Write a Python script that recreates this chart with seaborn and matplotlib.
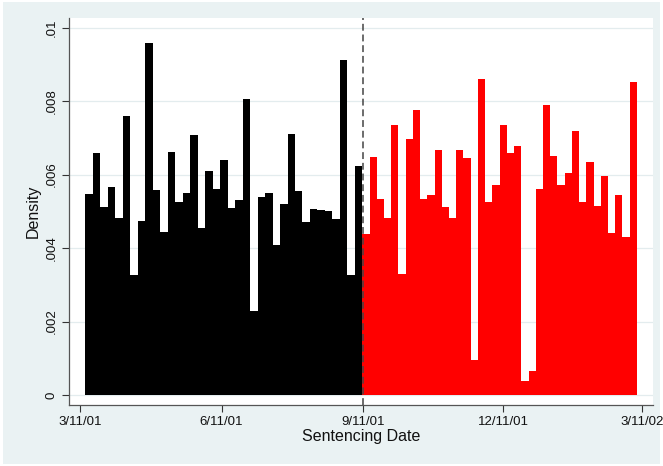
import numpy as np
import pandas as pd
import seaborn as sns
import matplotlib
matplotlib.use("Agg")
import matplotlib.pyplot as plt
from matplotlib.patches import Rectangle

# Days are counted from 3/11/01.
before_range = (3.5, 183.5)    # sentencing dates before 9/11/01
after_range = (183.5, 361.8)   # sentencing dates after 9/11/01
event_day = 184                # 9/11/01

before_density = [
    0.00546, 0.00659, 0.00512, 0.00565, 0.00483, 0.00760, 0.00328, 0.00474,
    0.00959, 0.00559, 0.00445, 0.00662, 0.00526, 0.00549, 0.00707, 0.00455,
    0.00610, 0.00560, 0.00640, 0.00508, 0.00532, 0.00805, 0.00229, 0.00540,
    0.00549, 0.00407, 0.00520, 0.00710, 0.00556, 0.00472, 0.00506, 0.00503,
    0.00501, 0.00478, 0.00912, 0.00328, 0.00623,
]
after_density = [
    0.00438, 0.00647, 0.00534, 0.00483, 0.00734, 0.00329, 0.00698, 0.00775,
    0.00534, 0.00545, 0.00667, 0.00511, 0.00483, 0.00667, 0.00644, 0.00095,
    0.00859, 0.00526, 0.00571, 0.00734, 0.00659, 0.00678, 0.00039, 0.00066,
    0.00560, 0.00790, 0.00651, 0.00572, 0.00603, 0.00719, 0.00526, 0.00635,
    0.00515, 0.00597, 0.00442, 0.00545, 0.00431, 0.00853,
]

tick_days = [0, 92, 184, 275, 365]
tick_labels = ["3/11/01", "6/11/01", "9/11/01", "12/11/01", "3/11/02"]
y_ticks = [0, 0.002, 0.004, 0.006, 0.008, 0.01]
y_labels = ["0", ".002", ".004", ".006", ".008", ".01"]


def binned(values, rng):
    edges = np.linspace(rng[0], rng[1], len(values) + 1)
    centers = (edges[:-1] + edges[1:]) / 2
    return pd.DataFrame({"day": centers, "density": values}), edges.tolist()


df_before, edges_before = binned(before_density, before_range)
df_after, edges_after = binned(after_density, after_range)

sns.set_style("white")
plt.rcParams["font.family"] = ["Liberation Sans", "DejaVu Sans"]

bg = "#EAF2F3"
fig = plt.figure(figsize=(6.63, 4.66), dpi=100, facecolor="white")
fig.patches.append(Rectangle((3 / 663, 2 / 466), 657 / 663, 462 / 466,
                             transform=fig.transFigure, facecolor=bg,
                             edgecolor="none", zorder=-10))
ax = fig.add_axes([69 / 663, 61 / 466, 584 / 663, 387 / 466])
ax.set_facecolor("white")

for y in y_ticks:
    ax.axhline(y, color="#E3ECEE", lw=0.9, zorder=0)

sns.histplot(x=df_before["day"], weights=df_before["density"],
             bins=edges_before, stat="count", color="black", alpha=1,
             linewidth=0, element="bars", ax=ax, zorder=2)
sns.histplot(x=df_after["day"], weights=df_after["density"],
             bins=edges_after, stat="count", color="#FF0000", alpha=1,
             linewidth=0, element="bars", ax=ax, zorder=2)

ax.axvline(event_day, color="#444444", lw=1.1, ls=(0, (4.5, 2.5)), zorder=3)

ax.set_xlim(-7.1, 372.3)
ax.set_ylim(-0.00027, 0.01026)

ax.set_xticks(tick_days)
ax.set_xticklabels(tick_labels, fontsize=9.5)
ax.set_yticks(y_ticks)
ax.set_yticklabels(y_labels, fontsize=9.5, rotation=90, va="center")
ax.tick_params(axis="both", direction="out", length=5, width=0.8,
               color="#333333", labelcolor="#111111", pad=3)
ax.tick_params(axis="x", bottom=True)
ax.tick_params(axis="y", left=True)

for side in ["top", "right"]:
    ax.spines[side].set_visible(False)
for side in ["left", "bottom"]:
    ax.spines[side].set_color("#555555")
    ax.spines[side].set_linewidth(0.9)

ax.set_xlabel("Sentencing Date", fontsize=11.5, color="#111111", labelpad=1)
ax.set_ylabel("Density", fontsize=11.5, color="#111111", labelpad=4)

fig.savefig("out.png", dpi=100, facecolor=fig.get_facecolor())
